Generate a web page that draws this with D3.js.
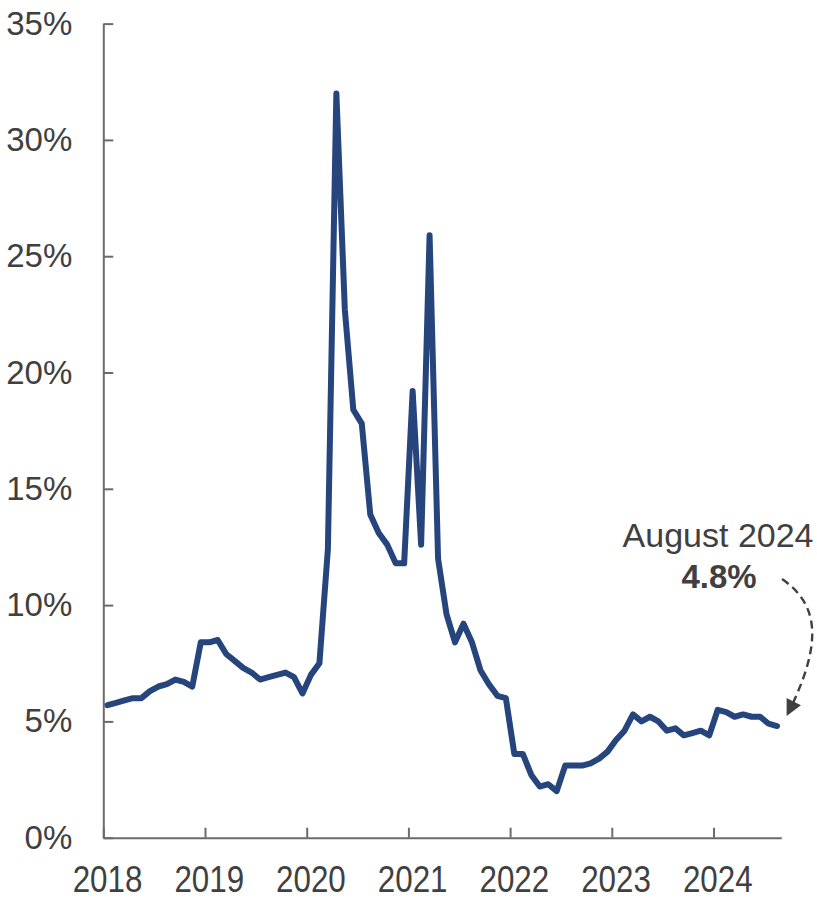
<!DOCTYPE html>
<html>
<head>
<meta charset="utf-8">
<script src="https://cdn.jsdelivr.net/npm/d3@7"></script>
<style>
  html, body { margin: 0; padding: 0; background: #ffffff; }
  svg { display: block; }
  text { font-family: "Liberation Sans", Arial, sans-serif; fill: #404040; }
</style>
</head>
<body>
<svg id="chart" width="817" height="898"></svg>
<script>
// Monthly rate, January 2018 through August 2024 (percent)
const rates2018 = [5.7, 5.8, 5.9, 6.0, 6.0, 6.3, 6.5, 6.6, 6.8, 6.7, 6.5, 8.4];
const rates2019 = [8.4, 8.5, 7.9, 7.6, 7.3, 7.1, 6.8, 6.9, 7.0, 7.1, 6.9, 6.2];
const rates2020 = [7.0, 7.5, 12.4, 32.0, 22.7, 18.4, 17.8, 13.9, 13.1, 12.6, 11.8, 11.8];
const rates2021 = [19.2, 12.6, 25.9, 12.0, 9.6, 8.4, 9.2, 8.4, 7.2, 6.6, 6.1, 6.0];
const rates2022 = [3.6, 3.6, 2.7, 2.2, 2.3, 2.0, 3.1, 3.1, 3.1, 3.2, 3.4, 3.7];
const rates2023 = [4.2, 4.6, 5.3, 5.0, 5.2, 5.0, 4.6, 4.7, 4.4, 4.5, 4.6, 4.4];
const rates2024 = [5.5, 5.4, 5.2, 5.3, 5.2, 5.2, 4.9, 4.8];

const years = ["2018", "2019", "2020", "2021", "2022", "2023", "2024"];
const monthNames = ["January", "February", "March", "April", "May", "June",
                    "July", "August", "September", "October", "November", "December"];
const yTicks = [0, 5, 10, 15, 20, 25, 30, 35];

const rates = [].concat(rates2018, rates2019, rates2020, rates2021, rates2022, rates2023, rates2024);

const svg = d3.select("#chart");
const plot = { left: 103.3, right: 781.3, top: 23.6, bottom: 837.7 };
const monthsOnAxis = 80;

const x = d3.scaleLinear().domain([0, monthsOnAxis]).range([plot.left, plot.right]);
const y = d3.scaleLinear().domain([0, 35]).range([plot.bottom, plot.top]);

const axisColor = "#6b6b6b";

// Y axis with inward ticks
const yAxis = svg.append("g")
  .attr("transform", `translate(${plot.left},0)`)
  .call(d3.axisLeft(y).tickValues(yTicks).tickSize(-10).tickSizeOuter(0)
    .tickPadding(31).tickFormat(d => d + "%"));
yAxis.select(".domain").attr("stroke", axisColor).attr("stroke-width", 2);
yAxis.selectAll(".tick line").attr("stroke", axisColor).attr("stroke-width", 2);
yAxis.selectAll(".tick text")
  .attr("fill", "#404040")
  .style("font-family", '"Liberation Sans", Arial, sans-serif')
  .style("font-size", "33px");

// X axis: year boundaries as ticks
const xAxis = svg.append("g")
  .attr("transform", `translate(0,${plot.bottom})`)
  .call(d3.axisBottom(x).tickValues(years.map((_, k) => k * 12)).tickSize(-10)
    .tickSizeOuter(0).tickFormat(""));
xAxis.select(".domain").attr("stroke", axisColor).attr("stroke-width", 2);
xAxis.selectAll(".tick line").attr("stroke", axisColor).attr("stroke-width", 2);

// Year labels centred on each January (slightly tall, narrow glyphs)
svg.append("g").selectAll("text")
  .data(years)
  .join("text")
  .attr("transform", (d, k) => `translate(${x(k * 12 + 0.5)},${plot.bottom + 54}) scale(0.95,1.12)`)
  .attr("text-anchor", "middle")
  .style("font-size", "33px")
  .text(d => d);

// Rate line
const line = d3.line()
  .x((d, i) => x(i + 0.5))
  .y(d => y(d));

svg.append("path")
  .datum(rates)
  .attr("d", line)
  .attr("fill", "none")
  .attr("stroke", "#25457c")
  .attr("stroke-width", 6)
  .attr("stroke-linejoin", "round")
  .attr("stroke-linecap", "round");

// Callout for the latest month
const lastIdx = rates.length - 1;
const lastVal = rates[lastIdx];
const lastMonth = monthNames[lastIdx % 12] + " " + years[Math.floor(lastIdx / 12)];
const px = x(lastIdx + 0.5), py = y(lastVal);

const labelX = px - 59;
svg.append("text")
  .attr("x", labelX).attr("y", py - 179)
  .attr("text-anchor", "middle")
  .style("font-size", "34px")
  .text(lastMonth);
svg.append("text")
  .attr("x", labelX + 1).attr("y", py - 138)
  .attr("text-anchor", "middle")
  .style("font-size", "33px")
  .style("font-weight", "bold")
  .text(lastVal.toFixed(1) + "%");

const defs = svg.append("defs");
defs.append("marker")
  .attr("id", "arrowHead")
  .attr("viewBox", "0 0 10 10")
  .attr("refX", 8).attr("refY", 5)
  .attr("markerWidth", 16).attr("markerHeight", 16)
  .attr("markerUnits", "userSpaceOnUse")
  .attr("orient", "auto")
  .append("path")
  .attr("d", "M0,0 L10,5 L0,10 Z")
  .attr("fill", "#404040");

const sx = px + 5, sy = py - 147;
const ex = px + 11, ey = py - 13;
svg.append("path")
  .attr("d", `M${sx},${sy} C${sx + 36},${sy + 25} ${ex + 36},${ey - 72} ${ex},${ey}`)
  .attr("fill", "none")
  .attr("stroke", "#404040")
  .attr("stroke-width", 2.4)
  .attr("stroke-dasharray", "8,5")
  .attr("marker-end", "url(#arrowHead)");
</script>
</body>
</html>
